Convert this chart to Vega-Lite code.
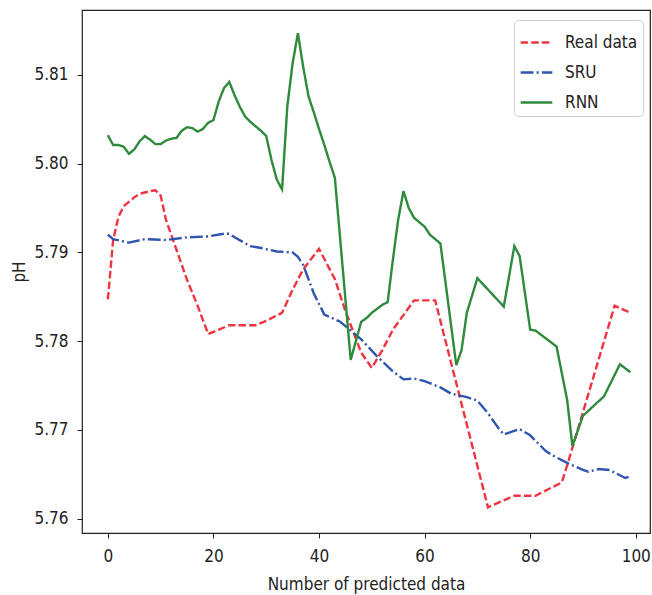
{
  "$schema": "https://vega.github.io/schema/vega-lite/v6.json",
  "width": 568,
  "height": 523,
  "autosize": "none",
  "padding": {"left": 82, "top": 10, "right": 2, "bottom": 62},
  "background": "white",
  "config": {
    "font": "DejaVu Sans Condensed",
    "view": {"stroke": "#222", "strokeWidth": 1.2},
    "axis": {"domain": false, "grid": false, "tickColor": "#222", "tickSize": 5, "labelColor": "#222", "titleColor": "#222", "labelFontSize": 17, "titleFontSize": 17, "titleFontWeight": "normal", "labelPadding": 7}
  },
  "data": {"values": [
    {"s":"Real data","n":0,"v":5.7847},{"s":"Real data","n":1,"v":5.7914},{"s":"Real data","n":2,"v":5.7940},{"s":"Real data","n":3,"v":5.7952},{"s":"Real data","n":5,"v":5.7962},{"s":"Real data","n":6,"v":5.7966},{"s":"Real data","n":8,"v":5.7969},{"s":"Real data","n":9,"v":5.7970},{"s":"Real data","n":10,"v":5.7964},{"s":"Real data","n":11,"v":5.7937},{"s":"Real data","n":13,"v":5.7903},{"s":"Real data","n":15,"v":5.7869},{"s":"Real data","n":17,"v":5.7840},{"s":"Real data","n":19,"v":5.7808},{"s":"Real data","n":23,"v":5.7818},{"s":"Real data","n":28,"v":5.7818},{"s":"Real data","n":30,"v":5.7823},{"s":"Real data","n":33,"v":5.7832},{"s":"Real data","n":35,"v":5.7858},{"s":"Real data","n":37,"v":5.7881},{"s":"Real data","n":40,"v":5.7904},{"s":"Real data","n":43,"v":5.7870},{"s":"Real data","n":45,"v":5.7834},{"s":"Real data","n":48,"v":5.7787},{"s":"Real data","n":50,"v":5.7770},{"s":"Real data","n":52,"v":5.7790},{"s":"Real data","n":54,"v":5.7813},{"s":"Real data","n":58,"v":5.7846},{"s":"Real data","n":62,"v":5.7846},{"s":"Real data","n":72,"v":5.7613},{"s":"Real data","n":77,"v":5.7626},{"s":"Real data","n":81,"v":5.7626},{"s":"Real data","n":86,"v":5.7641},{"s":"Real data","n":87,"v":5.7660},{"s":"Real data","n":96,"v":5.7840},{"s":"Real data","n":99,"v":5.7832},
    {"s":"SRU","n":0,"v":5.7920},{"s":"SRU","n":1,"v":5.7915},{"s":"SRU","n":4,"v":5.7911},{"s":"SRU","n":7,"v":5.7915},{"s":"SRU","n":11,"v":5.7914},{"s":"SRU","n":15,"v":5.7917},{"s":"SRU","n":19,"v":5.7918},{"s":"SRU","n":22,"v":5.7921},{"s":"SRU","n":23,"v":5.7921},{"s":"SRU","n":24,"v":5.7917},{"s":"SRU","n":27,"v":5.7907},{"s":"SRU","n":29,"v":5.7905},{"s":"SRU","n":32,"v":5.7901},{"s":"SRU","n":35,"v":5.7900},{"s":"SRU","n":36,"v":5.7895},{"s":"SRU","n":37,"v":5.7886},{"s":"SRU","n":39,"v":5.7854},{"s":"SRU","n":41,"v":5.7830},{"s":"SRU","n":44,"v":5.7822},{"s":"SRU","n":45,"v":5.7817},{"s":"SRU","n":48,"v":5.7802},{"s":"SRU","n":51,"v":5.7783},{"s":"SRU","n":54,"v":5.7766},{"s":"SRU","n":56,"v":5.7757},{"s":"SRU","n":58,"v":5.7758},{"s":"SRU","n":60,"v":5.7755},{"s":"SRU","n":63,"v":5.7748},{"s":"SRU","n":65,"v":5.7741},{"s":"SRU","n":68,"v":5.7737},{"s":"SRU","n":70,"v":5.7733},{"s":"SRU","n":72,"v":5.7719},{"s":"SRU","n":74,"v":5.7702},{"s":"SRU","n":75,"v":5.7695},{"s":"SRU","n":78,"v":5.7701},{"s":"SRU","n":80,"v":5.7694},{"s":"SRU","n":83,"v":5.7676},{"s":"SRU","n":85,"v":5.7669},{"s":"SRU","n":87,"v":5.7663},{"s":"SRU","n":90,"v":5.7655},{"s":"SRU","n":91,"v":5.7653},{"s":"SRU","n":93,"v":5.7656},{"s":"SRU","n":95,"v":5.7655},{"s":"SRU","n":98,"v":5.7646},{"s":"SRU","n":99,"v":5.7648},
    {"s":"RNN","n":0,"v":5.8032},{"s":"RNN","n":1,"v":5.8021},{"s":"RNN","n":2,"v":5.8021},{"s":"RNN","n":3,"v":5.8019},{"s":"RNN","n":4,"v":5.8011},{"s":"RNN","n":5,"v":5.8016},{"s":"RNN","n":6,"v":5.8025},{"s":"RNN","n":7,"v":5.8031},{"s":"RNN","n":8,"v":5.8027},{"s":"RNN","n":9,"v":5.8022},{"s":"RNN","n":10,"v":5.8022},{"s":"RNN","n":11,"v":5.8026},{"s":"RNN","n":12,"v":5.8028},{"s":"RNN","n":13,"v":5.8029},{"s":"RNN","n":14,"v":5.8037},{"s":"RNN","n":15,"v":5.8041},{"s":"RNN","n":16,"v":5.8040},{"s":"RNN","n":17,"v":5.8036},{"s":"RNN","n":18,"v":5.8039},{"s":"RNN","n":19,"v":5.8046},{"s":"RNN","n":20,"v":5.8049},{"s":"RNN","n":21,"v":5.8070},{"s":"RNN","n":22,"v":5.8085},{"s":"RNN","n":23,"v":5.8092},{"s":"RNN","n":24,"v":5.8077},{"s":"RNN","n":25,"v":5.8064},{"s":"RNN","n":26,"v":5.8053},{"s":"RNN","n":27,"v":5.8047},{"s":"RNN","n":28,"v":5.8042},{"s":"RNN","n":29,"v":5.8037},{"s":"RNN","n":30,"v":5.8031},{"s":"RNN","n":31,"v":5.8004},{"s":"RNN","n":32,"v":5.7982},{"s":"RNN","n":33,"v":5.7971},{"s":"RNN","n":34,"v":5.8065},{"s":"RNN","n":35,"v":5.8113},{"s":"RNN","n":36,"v":5.8147},{"s":"RNN","n":37,"v":5.8109},{"s":"RNN","n":38,"v":5.8076},{"s":"RNN","n":39,"v":5.8058},{"s":"RNN","n":40,"v":5.8039},{"s":"RNN","n":41,"v":5.8021},{"s":"RNN","n":42,"v":5.8002},{"s":"RNN","n":43,"v":5.7984},{"s":"RNN","n":46,"v":5.7779},{"s":"RNN","n":48,"v":5.7822},{"s":"RNN","n":49,"v":5.7826},{"s":"RNN","n":50,"v":5.7832},{"s":"RNN","n":52,"v":5.7841},{"s":"RNN","n":53,"v":5.7844},{"s":"RNN","n":54,"v":5.7892},{"s":"RNN","n":55,"v":5.7937},{"s":"RNN","n":56,"v":5.7969},{"s":"RNN","n":57,"v":5.7950},{"s":"RNN","n":58,"v":5.7939},{"s":"RNN","n":60,"v":5.7929},{"s":"RNN","n":61,"v":5.7920},{"s":"RNN","n":63,"v":5.7910},{"s":"RNN","n":66,"v":5.7773},{"s":"RNN","n":67,"v":5.7790},{"s":"RNN","n":68,"v":5.7832},{"s":"RNN","n":70,"v":5.7871},{"s":"RNN","n":75,"v":5.7839},{"s":"RNN","n":77,"v":5.7907},{"s":"RNN","n":78,"v":5.7896},{"s":"RNN","n":80,"v":5.7813},{"s":"RNN","n":81,"v":5.7812},{"s":"RNN","n":85,"v":5.7794},{"s":"RNN","n":87,"v":5.7734},{"s":"RNN","n":88,"v":5.7682},{"s":"RNN","n":90,"v":5.7716},{"s":"RNN","n":92,"v":5.7727},{"s":"RNN","n":94,"v":5.7738},{"s":"RNN","n":97,"v":5.7774},{"s":"RNN","n":99,"v":5.7765}
  ]},
  "mark": {"type": "line", "strokeWidth": 2.4, "clip": true},
  "encoding": {
    "x": {"field": "n", "type": "quantitative", "title": "Number of predicted data",
          "scale": {"domain": [-4.9, 102.7], "nice": false, "zero": false},
          "axis": {"values": [0, 20, 40, 60, 80, 100], "titlePadding": 12, "labelPadding": 10}},
    "y": {"field": "v", "type": "quantitative", "title": "pH",
          "scale": {"domain": [5.7584, 5.8173], "nice": false, "zero": false},
          "axis": {"values": [5.76, 5.77, 5.78, 5.79, 5.80, 5.81], "format": ".2f", "titlePadding": 5, "labelPadding": 9}},
    "color": {"field": "s", "type": "nominal", "title": null,
              "scale": {"domain": ["Real data", "SRU", "RNN"], "range": ["#ef3340", "#2f55b0", "#2e8b3c"]},
              "legend": {"orient": "none", "legendX": 432, "legendY": 10, "symbolType": "stroke", "symbolSize": 1000, "symbolStrokeWidth": 2.4, "labelFontSize": 17, "labelColor": "#222", "labelOffset": 11, "rowPadding": 4, "padding": 5, "strokeColor": "#d0d0d0", "fillColor": "#ffffff", "cornerRadius": 4}},
    "strokeDash": {"field": "s", "type": "nominal", "title": null,
              "scale": {"domain": ["Real data", "SRU", "RNN"], "range": [[7.4, 3.2], [12.8, 3.2, 2, 3.2], [1, 0]]}},
    "order": {"field": "n", "type": "quantitative"}
  }
}
